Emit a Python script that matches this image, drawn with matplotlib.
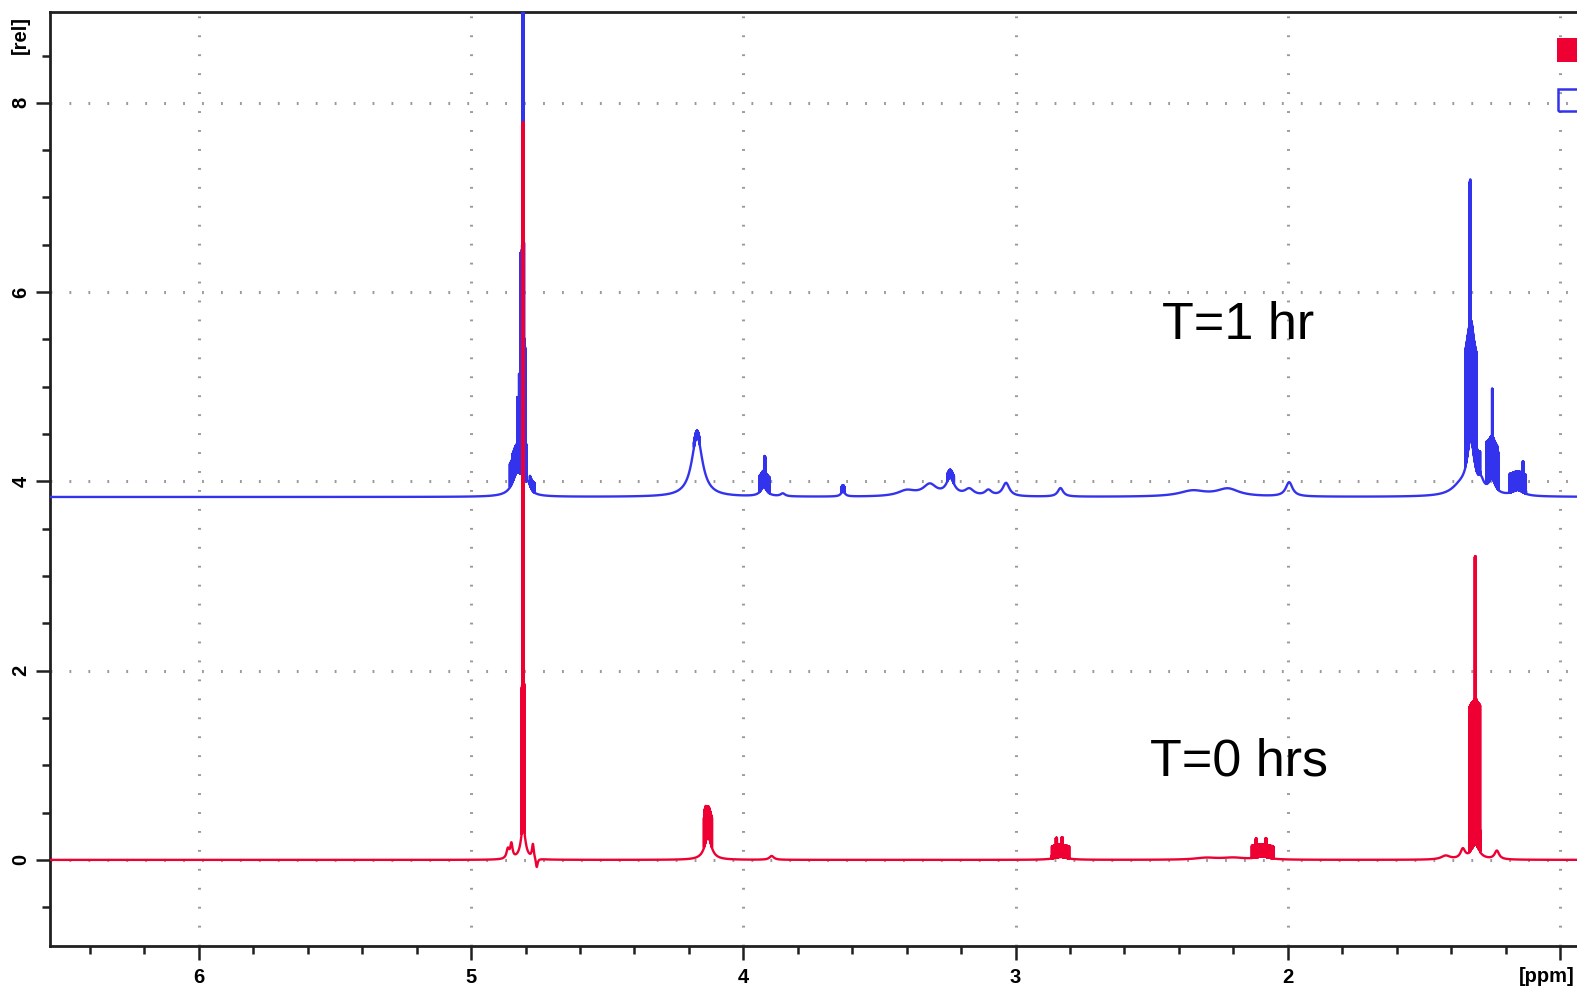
import numpy as np
import matplotlib
matplotlib.use("Agg")
import matplotlib.pyplot as plt
from matplotlib.ticker import MultipleLocator, FixedLocator
from matplotlib.patches import Rectangle

plt.rcParams['font.family'] = ['Liberation Sans', 'DejaVu Sans']
plt.rcParams['path.simplify'] = False

# ---------------- data ----------------
x_major_ticks = [6, 5, 4, 3, 2, 1]
x_tick_labels = ['6', '5', '4', '3', '2', '']
x_unit_label = '[ppm]'
y_major_ticks = [0, 2, 4, 6, 8]
y_tick_labels = ['0', '2', '4', '6', '8']
y_unit_label = '[rel]'

labels = ['T=1 hr', 'T=0 hrs']

# T=1 hr spectrum (blue): baseline offset
blue_offset = 3.835
# broad Lorentzian components: centre (ppm), height, half-width (ppm)
blue_ppm = [4.809, 4.830, 4.790, 4.170, 3.925, 3.855, 3.634, 3.400, 3.315, 3.240,
            3.170, 3.100, 3.035, 2.835, 2.350, 2.220, 1.995, 1.328, 1.365, 1.250,
            1.290, 1.155]
blue_height = [1.20, 0.25, 0.10, 0.64, 0.10, 0.03, 0.06, 0.06, 0.12, 0.18,
               0.07, 0.06, 0.14, 0.09, 0.06, 0.08, 0.15, 0.55, 0.10, 0.15,
               0.10, 0.06]
blue_width = [0.0015, 0.022, 0.010, 0.024, 0.014, 0.010, 0.008, 0.040, 0.030, 0.018,
              0.020, 0.015, 0.015, 0.012, 0.060, 0.050, 0.015, 0.016, 0.040, 0.015,
              0.012, 0.025]
# dense multiplet bands: low ppm, high ppm, height above the broad components
blue_band_lo = [4.8065, 4.8055, 4.7990, 4.8190, 4.8240, 4.7970, 4.8310, 4.8480, 4.7840, 4.7660,
                4.160, 3.903, 3.919, 3.628, 3.226, 1.307, 1.329, 1.293, 1.230, 1.247,
                1.225, 1.125, 1.134]
blue_band_hi = [4.8115, 4.8190, 4.8060, 4.8240, 4.8310, 4.7990, 4.8480, 4.8580, 4.7840, 4.7840,
                4.182, 3.942, 3.923, 3.640, 3.250, 1.348, 1.332, 1.307, 1.270, 1.250,
                1.230, 1.185, 1.137]
blue_band_h = [10.0, 2.35, 1.40, 1.05, 0.80, 0.40, 0.30, 0.25, 0.18, 0.10,
               0.06, 0.17, 0.33, 0.06, 0.08, 1.25, 2.75, 0.25, 0.45, 0.95,
               0.40, 0.20, 0.33]

# T=0 hrs spectrum (red)
red_offset = 0.0
red_ppm = [4.809, 4.852, 4.865, 4.773, 4.759, 4.130, 3.896, 2.835, 2.300, 2.200,
           2.092, 1.311, 1.357, 1.232, 1.420]
red_height = [0.35, 0.15, 0.10, 0.15, -0.10, 0.25, 0.04, 0.03, 0.02, 0.02,
              0.03, 0.15, 0.10, 0.09, 0.04]
red_width = [0.010, 0.005, 0.006, 0.004, 0.004, 0.015, 0.010, 0.030, 0.050, 0.050,
             0.030, 0.018, 0.010, 0.010, 0.020]
red_band_lo = [4.8065, 4.8030, 4.115, 4.138, 2.803, 2.848, 2.827, 2.053, 2.114, 2.078,
               1.293, 1.309]
red_band_hi = [4.8115, 4.8150, 4.145, 4.142, 2.867, 2.852, 2.831, 2.132, 2.118, 2.082,
               1.333, 1.313]
red_band_h = [7.45, 1.55, 0.32, 0.38, 0.13, 0.21, 0.21, 0.13, 0.20, 0.20,
              1.55, 3.05]

# ---------------- spectrum synthesis ----------------
ppm = np.linspace(6.6, 0.9, 150001)
comb_step = 0.0008
comb_sigma = 0.00012


def spectrum(offset, cen, hgt, wid, blo, bhi, bh):
    y = np.full_like(ppm, offset)
    for c, h, w in zip(cen, hgt, wid):
        y += h / (1.0 + ((ppm - c) / w) ** 2)
    env = np.zeros_like(ppm)
    for lo, hi, h in zip(blo, bhi, bh):
        m = (ppm >= min(lo, hi)) & (ppm <= max(lo, hi))
        env[m] = np.maximum(env[m], h)
    d = np.mod(ppm, comb_step)
    d = np.minimum(d, comb_step - d)
    comb = np.exp(-0.5 * (d / comb_sigma) ** 2)
    return y + env * comb


blue_y = spectrum(blue_offset, blue_ppm, blue_height, blue_width,
                  blue_band_lo, blue_band_hi, blue_band_h)
red_y = spectrum(red_offset, red_ppm, red_height, red_width,
                 red_band_lo, red_band_hi, red_band_h)

# ---------------- figure ----------------
W, H = 1577, 988
fig = plt.figure(figsize=(W / 100, H / 100), dpi=100)
ax = fig.add_axes([50 / W, 1 - 946 / H, 1 - 50 / W, (946 - 12) / H])

blue_c = '#3333EE'
red_c = '#EE0033'
ax.plot(ppm, blue_y, color=blue_c, lw=1.7, zorder=3)
ax.plot(ppm, red_y, color=red_c, lw=1.7, zorder=4)

ax.set_xlim(6.547, 0.9376)
ax.set_ylim(-0.91, 8.96)

ax.xaxis.set_major_locator(FixedLocator(x_major_ticks))
ax.set_xticklabels(x_tick_labels)
ax.xaxis.set_minor_locator(MultipleLocator(0.2))
ax.yaxis.set_major_locator(FixedLocator(y_major_ticks))
ax.set_yticklabels(y_tick_labels, rotation=90, va='center')
ax.yaxis.set_minor_locator(MultipleLocator(0.5))

for lab in ax.get_xticklabels() + ax.get_yticklabels():
    lab.set_fontweight('bold')
    lab.set_fontsize(14.5)

ax.tick_params(axis='both', which='major', length=10, width=1.8, color='#202020')
ax.tick_params(axis='both', which='minor', length=6, width=1.8, color='#202020')
ax.tick_params(axis='x', which='major', pad=6)
ax.tick_params(axis='y', which='major', pad=4)

ax.grid(True, which='major', color='#9a9a9a', lw=2.2, linestyle=(0, (0.6, 5.6)))
ax.set_axisbelow(True)

for s in ['left', 'bottom', 'top']:
    ax.spines[s].set_linewidth(2.0)
    ax.spines[s].set_color('#202020')
ax.spines['right'].set_visible(False)

# axis unit labels
fig.text(20 / W, 1 - 35 / H, y_unit_label, rotation=90, ha='center', va='center',
         fontsize=14.5, fontweight='bold')
fig.text(1575 / W, 1 - 976 / H, x_unit_label, ha='right', va='center',
         fontsize=14.5, fontweight='bold')

ax.text(2.181, 5.505, labels[0], fontsize=37.5, ha='center', va='baseline', color='black')
ax.text(2.181, 0.896, labels[1], fontsize=37.5, ha='center', va='baseline', color='black')

# legend markers (partially cut at the right edge)
fig.patches.append(Rectangle((1557 / W, 1 - 62 / H), 30 / W, 24 / H,
                             transform=fig.transFigure, facecolor=red_c, edgecolor=red_c,
                             lw=0, zorder=10))
fig.patches.append(Rectangle((1558 / W, 1 - 111 / H), 30 / W, 22 / H,
                             transform=fig.transFigure, facecolor='none', edgecolor=blue_c,
                             lw=1.8, zorder=10))

fig.savefig('out.png', dpi=100)
